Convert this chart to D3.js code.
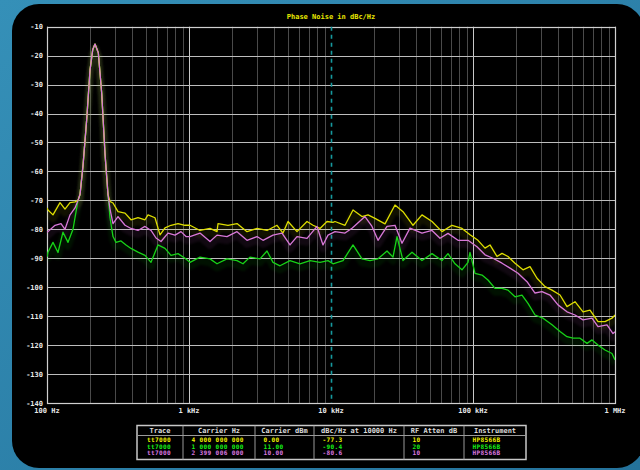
<!DOCTYPE html>
<meta charset="utf-8">
<style>
    body { margin: 0; background: #2a7ea6; }
    text { font-family: "DejaVu Sans Mono", monospace; font-weight: bold; font-size: 7px; }
    .row text { font-size: 6.1px; letter-spacing: 0.35px; }
    .grid-major { stroke: #c8c8c8; stroke-width: 1; }
    .grid-minor { stroke: #4a4a4a; stroke-width: 1; }
    .grid-h { stroke: #bdbdbd; stroke-width: 1; }
    .trace { fill: none; stroke-width: 1.3; stroke-linejoin: round; }
    .haze { fill: none; stroke-width: 7; stroke-opacity: 0.08; stroke-linejoin: round; }
</style>
<script src="https://d3js.org/d3.v7.min.js"></script>
<svg width="640" height="470"></svg>
<script>
    // axis values
    const yTicks = [-10, -20, -30, -40, -50, -60, -70, -80, -90, -100, -110, -120, -130, -140];
    const xTicks = [100, 1000, 10000, 100000, 1000000];
    const xTickLabels = ["100 Hz", "1 kHz", "10 kHz", "100 kHz", "1 MHz"];
    const markerFreq = 10000;
    const title = "Phase Noise in dBc/Hz";

    // [offset Hz, dBc/Hz]
    const yellowTrace = [[100,-72.6],[101.6,-73.3],[110.2,-75],[123.5,-70.8],[133.9,-73],[145.2,-70.8],[157.5,-70.5],
        [165.3,-70],[170.8,-68],[179.3,-58],[190.4,-42],[200.9,-25],[209.8,-18],[217.8,-16],[229.8,-19],[242.8,-33],
        [256.2,-54],[268.9,-68],[277.8,-70.4],[291.6,-70.9],[316.2,-73.9],[354.3,-74.4],[390.5,-76.7],[437.3,-76],
        [489.9,-76.7],[514.4,-75],[576.2,-76],[625,-81.9],[677.8,-79.5],[746.9,-78.6],[836.6,-78],[937.2,-78.6],
        [1016,-78.6],[1195,-80.4],[1406,-79.7],[1575,-80.8],[1601,-78],[1882,-78.6],[2178,-78],[2562,-80.8],[3012,-79.7],
        [3543,-80.4],[4166,-78.6],[4591,-81.3],[4981,-77.3],[5762,-80.8],[6778,-77.3],[7469,-78.6],[8366,-79.7],
        [9372,-77.3],[10330,-77.6],[10670,-77.3],[12550,-78.6],[14290,-73.3],[16530,-75.6],[18220,-75],[20410,-76.2],
        [24000,-78.1],[28230,-71.6],[32140,-73.9],[37800,-78.6],[43730,-75],[51440,-77.3],[60500,-80.8],[71140,-78.6],
        [83660,-79.7],[95250,-81.9],[108400,-83.8],[121500,-86.5],[131700,-85.4],[147600,-89.4],[160100,-88.3],
        [176400,-89.4],[197600,-91.7],[224900,-94],[252000,-92.9],[282300,-96.9],[321400,-99.8],[360100,-101],
        [410000,-102.7],[459100,-106.7],[522900,-105],[595300,-108.5],[666800,-107.9],[759100,-111.9],[850300,-111.9],
        [952500,-110.7],[1000000,-109.6]];

    const greenTrace = [[100,-89.5],[101.6,-87.9],[110.2,-84.5],[119.5,-88],[129.6,-81],[140.6,-84.5],[152.4,-80],
        [165.3,-70],[170.8,-68],[179.3,-58],[190.4,-42],[200.9,-25],[209.8,-18],[217.8,-16],[229.8,-19],[242.8,-33],
        [256.2,-54],[268.9,-68],[277.8,-76],[291.6,-82.5],[306.2,-84.5],[332,-84],[360.1,-85.4],[390.5,-86.6],
        [437.3,-87.9],[489.9,-89],[540,-91.4],[605,-85.4],[677.8,-86.6],[746.9,-89],[836.6,-88.4],[937.2,-90],
        [1016,-91.4],[1195,-89.6],[1406,-90.2],[1575,-91.9],[1852,-90.2],[2178,-90.8],[2400,-91.9],[2689,-89.6],
        [3162,-90.2],[3543,-87.5],[3905,-91.4],[4373,-92.6],[5144,-90.8],[6050,-91.9],[7116,-90.8],[8366,-91.4],
        [9525,-90.8],[10330,-91.9],[12150,-90.8],[14290,-85.4],[16530,-90.2],[18820,-90.8],[21430,-90.2],[24800,-87.5],
        [27330,-89.6],[29160,-82.5],[32140,-90.8],[37190,-87.9],[43730,-90.8],[51440,-88.4],[60500,-90.8],[66670,-88.4],
        [74690,-91.9],[83660,-94],[92210,-91.4],[95250,-88],[103300,-95.2],[115700,-95.8],[127500,-97.5],[142900,-100.4],
        [160100,-100.4],[176400,-101],[197600,-103.3],[221300,-102.7],[243900,-105.6],[273300,-109.6],[311200,-110.7],
        [360100,-113],[410000,-115.3],[459100,-117.1],[506100,-117.6],[567000,-117.6],[635200,-119.4],[688700,-118.2],
        [759100,-120],[850300,-121.7],[952500,-122.9],[1000000,-125.1]];

    const magentaTrace = [[100,-81],[101.6,-80.8],[113.9,-78.6],[125.5,-78],[133.9,-80],[145.2,-75],[157.5,-72.6],
        [165.3,-70],[170.8,-68],[179.3,-58],[190.4,-42],[200.9,-25],[209.8,-18],[217.8,-16],[229.8,-19],[242.8,-33],
        [256.2,-54],[268.9,-68],[277.8,-73],[291.6,-78],[316.2,-75.6],[354.3,-78.6],[390.5,-79.7],[437.3,-80.4],
        [489.9,-79],[540,-80.4],[585.6,-83],[635.2,-84.2],[711.6,-81.3],[796.9,-82],[878.3,-80.8],[952.5,-82.5],
        [1016,-82.5],[1195,-81.3],[1406,-84.2],[1575,-82],[1852,-82.5],[2178,-80.8],[2562,-83.8],[3012,-82.5],
        [3320,-83.8],[3905,-82],[4517,-81.3],[5144,-85.4],[5762,-82.5],[6778,-83.1],[7969,-79],[8783,-85.4],
        [9525,-82],[10670,-80.8],[12550,-81.3],[14060,-79.6],[17350,-75.6],[19440,-79],[21430,-83.8],[24800,-79],
        [28230,-78.6],[31620,-84.8],[36010,-79.6],[43730,-81.3],[51440,-80.4],[58560,-83.1],[66670,-81.4],[78420,-83.8],
        [92210,-83.8],[106700,-86],[121500,-88.8],[138300,-90],[160100,-91.7],[182200,-93.4],[207500,-95.2],
        [240000,-98.1],[273300,-102],[306200,-101.5],[348500,-102.7],[396800,-106.1],[459100,-108.5],[522900,-109.6],
        [595300,-111.3],[688700,-110.7],[759100,-113.6],[878300,-113],[968100,-116],[1000000,-115.4]];

    const traceColors = ["#dede00", "#17d317", "#d878d8"];

    // table below the plot
    const tableHeader = ["Trace", "Carrier Hz", "Carrier dBm", "dBc/Hz at 10000 Hz", "RF Atten dB", "Instrument"];
    const tableRows = [
        ["tt7000", "4 000 000 000", "0.00", "-77.3", "10", "HP8566B"],
        ["tt7000", "1 000 000 000", "11.00", "-90.4", "20", "HP8566B"],
        ["tt7000", "2 399 006 000", "10.00", "-80.6", "10", "HP8566B"]
    ];
    const rowColors = ["#f0f000", "#18f018", "#dc78e0"];

    let svg = d3.select("svg");
    let plot = {left: 47, right: 615, top: 26.7, bottom: 403};

    let defs = svg.append("defs");
    let bg = defs.append("linearGradient").attr("id", "bg").attr("x1", 0).attr("y1", 0).attr("x2", 1).attr("y2", 1);
    bg.append("stop").attr("offset", 0).attr("stop-color", "#3590b8");
    bg.append("stop").attr("offset", 1).attr("stop-color", "#24729b");
    defs.append("filter").attr("id", "soft").append("feGaussianBlur").attr("stdDeviation", 1.2);

    svg.append("rect").attr("width", 640).attr("height", 470).attr("fill", "url(#bg)");
    svg.append("rect").attr("x", 12).attr("y", 4).attr("width", 632).attr("height", 464)
        .attr("rx", 27).attr("fill", "#000");

    let x = d3.scaleLog().domain([100, 1000000]).range([plot.left, plot.right]);
    let y = d3.scaleLinear().domain([-140, -10]).range([plot.bottom, plot.top]);

    // minor vertical grid
    let minor = [];
    xTicks.slice(0, -1).forEach(function(d) { for (let m = 2; m < 10; m++) minor.push(d * m); });
    svg.append("g").selectAll("line").data(minor).enter().append("line")
        .attr("class", "grid-minor")
        .attr("x1", function(d) { return Math.round(x(d)) + 0.5; })
        .attr("x2", function(d) { return Math.round(x(d)) + 0.5; })
        .attr("y1", plot.top).attr("y2", plot.bottom);

    // decade lines; the 10 kHz one is replaced by the dashed marker
    svg.append("g").selectAll("line").data(xTicks.filter(function(d) { return d !== markerFreq; }))
        .enter().append("line")
        .attr("class", "grid-major")
        .attr("x1", function(d) { return Math.round(x(d)) + 0.5; })
        .attr("x2", function(d) { return Math.round(x(d)) + 0.5; })
        .attr("y1", plot.top).attr("y2", plot.bottom);

    svg.append("g").selectAll("line").data(yTicks).enter().append("line")
        .attr("class", "grid-h")
        .attr("x1", plot.left).attr("x2", plot.right)
        .attr("y1", function(d) { return Math.round(y(d)) + 0.5; })
        .attr("y2", function(d) { return Math.round(y(d)) + 0.5; });

    svg.append("rect").attr("x", plot.left + 0.5).attr("y", Math.round(plot.top) + 0.5)
        .attr("width", plot.right - plot.left).attr("height", plot.bottom - Math.round(plot.top))
        .attr("fill", "none").attr("stroke", "#d0d0d0").attr("stroke-width", 1.2);

    // marker at 10 kHz
    svg.append("line")
        .attr("x1", Math.round(x(markerFreq)) + 0.5).attr("x2", Math.round(x(markerFreq)) + 0.5)
        .attr("y1", plot.top).attr("y2", plot.bottom)
        .attr("stroke", "#16999e").attr("stroke-width", 1.6).attr("stroke-dasharray", "4,4");

    // tick labels
    svg.append("g").selectAll("text").data(yTicks).enter().append("text")
        .attr("x", plot.left - 4).attr("y", function(d) { return y(d) + 2.5; })
        .attr("text-anchor", "end").attr("fill", "#e8e8e8")
        .text(function(d) { return d; });

    svg.append("g").selectAll("text").data(xTicks).enter().append("text")
        .attr("x", function(d) { return x(d); }).attr("y", 413)
        .attr("text-anchor", "middle").attr("fill", "#e8e8e8")
        .text(function(d, i) { return xTickLabels[i]; });

    svg.append("text").attr("x", (plot.left + plot.right) / 2).attr("y", 19)
        .attr("text-anchor", "middle").attr("fill", "#e8e800").text(title);

    // traces
    let line = d3.line()
        .x(function(d) { return x(d[0]); })
        .y(function(d) { return y(d[1]); });

    let traces = [greenTrace, yellowTrace, magentaTrace];
    let colors = [traceColors[1], traceColors[0], traceColors[2]];

    let clip = defs.append("clipPath").attr("id", "plotclip");
    clip.append("rect").attr("x", plot.left).attr("y", plot.top)
        .attr("width", plot.right - plot.left).attr("height", plot.bottom - plot.top);

    let tg = svg.append("g").attr("clip-path", "url(#plotclip)");
    tg.selectAll(".haze").data(traces).enter().append("path")
        .attr("class", "haze")
        .attr("filter", "url(#soft)")
        .attr("stroke", function(d, i) { return colors[i]; })
        .attr("transform", "translate(0,4)")
        .attr("d", line);
    tg.selectAll(".trace").data(traces).enter().append("path")
        .attr("class", "trace")
        .attr("stroke", function(d, i) { return colors[i]; })
        .attr("d", line);

    // info table
    let cols = [137, 183, 255, 314, 404, 464, 526];
    let tTop = 425.5, tSep = 435.5, tBottom = 459.5;
    let table = svg.append("g");
    table.append("rect").attr("x", cols[0]).attr("y", tTop)
        .attr("width", cols[6] - cols[0]).attr("height", tBottom - tTop)
        .attr("fill", "#000").attr("stroke", "#c8c8c8").attr("stroke-width", 1.5);
    table.selectAll(".colsep").data(cols.slice(1, -1)).enter().append("line")
        .attr("x1", function(d) { return d; }).attr("x2", function(d) { return d; })
        .attr("y1", tTop).attr("y2", tBottom)
        .attr("stroke", "#9a9a9a").attr("stroke-width", 1);
    table.append("line").attr("x1", cols[0]).attr("x2", cols[6])
        .attr("y1", tSep).attr("y2", tSep).attr("stroke", "#9a9a9a");

    table.selectAll(".head").data(tableHeader).enter().append("text")
        .attr("x", function(d, i) { return (cols[i] + cols[i + 1]) / 2; })
        .attr("y", 433).attr("text-anchor", "middle").attr("fill", "#dcdcdc")
        .text(function(d) { return d; });

    table.selectAll(".row").data(tableRows).enter().append("g")
        .attr("class", "row")
        .attr("transform", function(d, i) { return "translate(0," + (442.2 + i * 6.6) + ")"; })
        .attr("fill", function(d, i) { return rowColors[i]; })
        .selectAll("text").data(function(d) { return d; }).enter().append("text")
        .attr("x", function(d, i) { return cols[i] + (i === 0 ? 10 : 8.5); })
        .text(function(d) { return d; });
</script>
